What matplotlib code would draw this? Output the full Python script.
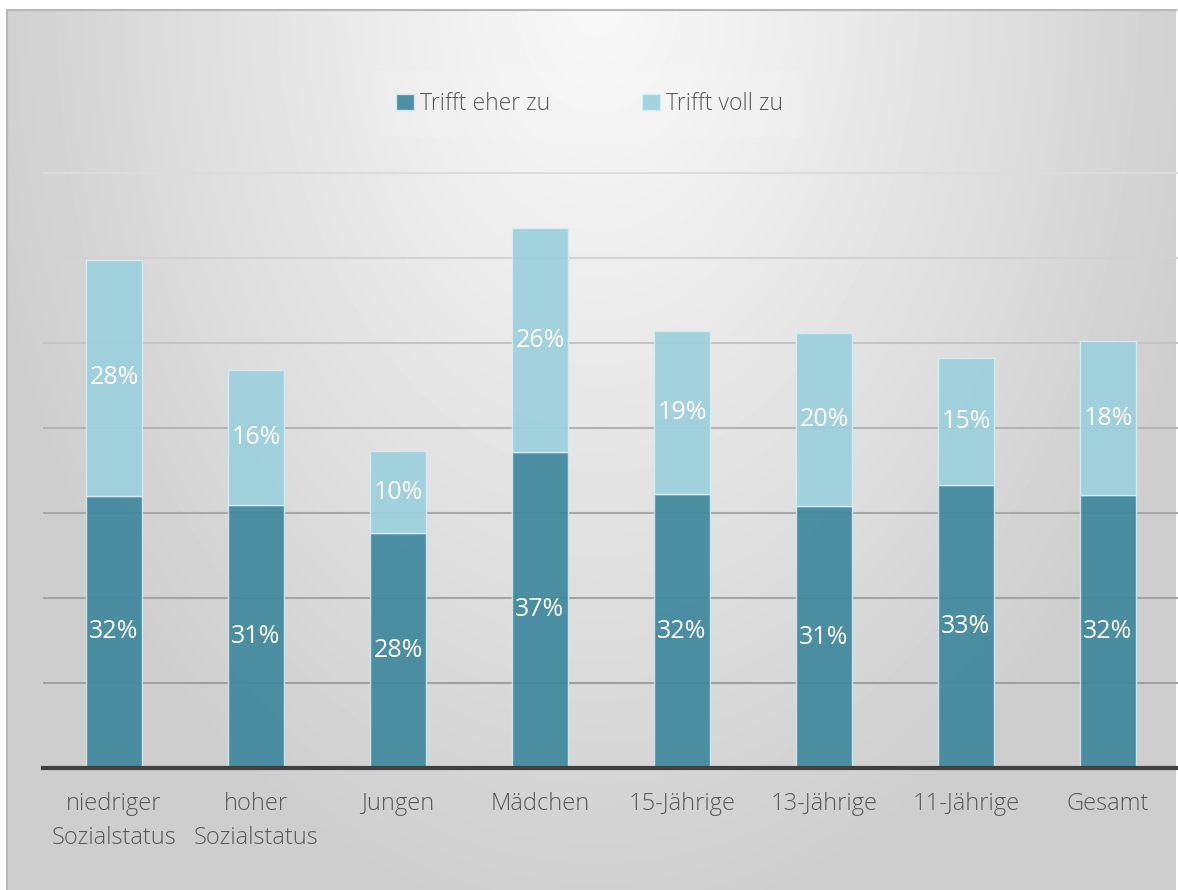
import numpy as np
import matplotlib
matplotlib.use('Agg')
import matplotlib.pyplot as plt
from matplotlib.patches import Patch

plt.rcParams['font.family'] = ['Open Sans', 'DejaVu Sans']
plt.rcParams['font.weight'] = 'light'

categories = ['niedriger\nSozialstatus', 'hoher\nSozialstatus', 'Jungen', 'Mädchen',
              '15-Jährige', '13-Jährige', '11-Jährige', 'Gesamt']
eher_zu = [32.0, 30.9, 27.6, 37.2, 32.2, 30.8, 33.3, 32.1]
voll_zu = [27.8, 15.9, 9.7, 26.3, 19.2, 20.4, 14.9, 18.1]
series_names = ['Trifft eher zu', 'Trifft voll zu']

dark = '#3f889e'
light = '#9dd0de'
text_gray = '#595959'

W, H = 1178, 890
fig = plt.figure(figsize=(W / 100, H / 100), dpi=100)
fig.patch.set_facecolor('white')

# grey panel with soft radial gradient
bg = fig.add_axes([7 / W, 0, (W - 9) / W, (H - 10) / H])
yy, xx = np.mgrid[0:880, 0:1169]
r = np.sqrt(((xx - 590) / 600.0) ** 2 + ((yy + 20) / 900.0) ** 2)
shade = 0.975 - 0.16 * np.clip(r, 0, 1.05) ** 1.1
bg.imshow(shade, cmap='gray', vmin=0, vmax=1, aspect='auto', interpolation='bilinear')
bg.set_xticks([])
bg.set_yticks([])
for s in ['right', 'bottom']:
    bg.spines[s].set_visible(False)
for s in ['top', 'left']:
    bg.spines[s].set_color('#b8b8b8')
    bg.spines[s].set_linewidth(1.5)
bg.set_zorder(0)

ax = fig.add_axes([43 / W, 122 / H, 1136 / W, 680 / H])
ax.set_zorder(1)
ax.patch.set_alpha(0)

x = np.arange(len(categories))
b1 = ax.bar(x, eher_zu, width=0.4, color=dark, alpha=0.92, edgecolor='#cfe9f0', linewidth=1, zorder=3)
b2 = ax.bar(x, voll_zu, width=0.4, bottom=eher_zu, color=light, alpha=0.92,
            edgecolor='#d4edf3', linewidth=1, zorder=3)

for i in range(len(categories)):
    ax.text(x[i], eher_zu[i] / 2, f'{eher_zu[i]:.0f}%', ha='center', va='center',
            color='white', fontsize=18, fontweight='normal', zorder=4)
    ax.text(x[i], eher_zu[i] + voll_zu[i] / 2, f'{voll_zu[i]:.0f}%', ha='center', va='center',
            color='white', fontsize=18, fontweight='normal', zorder=4)

ax.set_xlim(-0.5, len(categories) - 0.5)
ax.set_ylim(0, 80)
ax.set_yticks(range(0, 80, 10))
ax.yaxis.grid(True, zorder=0)
grid_cols = ['#a0a0a0', '#a0a0a0', '#a4a4a4', '#a8a8a8', '#b4b4b4', '#c4c4c4', '#d2d2d2', '#dcdcdc']
for gl, c in zip(ax.get_ygridlines(), grid_cols):
    gl.set_color(c)
    gl.set_linewidth(1.5)
ax.tick_params(axis='y', left=False, labelleft=False)
ax.tick_params(axis='x', bottom=False, pad=14, labelsize=17, labelcolor=text_gray)
ax.set_xticks(x)
ax.set_xticklabels(categories, linespacing=1.55)
for s in ['top', 'right', 'left']:
    ax.spines[s].set_visible(False)
ax.spines['bottom'].set_color('#404040')
ax.spines['bottom'].set_linewidth(3)
ax.spines['bottom'].set_zorder(5)

handles = [Patch(facecolor=dark, edgecolor='#cfe9f0', alpha=0.92),
           Patch(facecolor=light, edgecolor='#d4edf3', alpha=0.92)]
leg = fig.legend(handles, series_names, loc='center', bbox_to_anchor=(590 / W, 1 - 104 / H),
                 ncol=2, frameon=True, fontsize=16.5, labelcolor=text_gray,
                 handlelength=0.75, handleheight=0.75, handletextpad=0.3, columnspacing=4.0,
                 borderpad=0.9)
leg.get_frame().set_facecolor('white')
leg.get_frame().set_alpha(0.12)
leg.get_frame().set_edgecolor('none')
leg.get_frame().set_boxstyle('square', pad=0)

fig.savefig('out.png', dpi=100, facecolor='white')
